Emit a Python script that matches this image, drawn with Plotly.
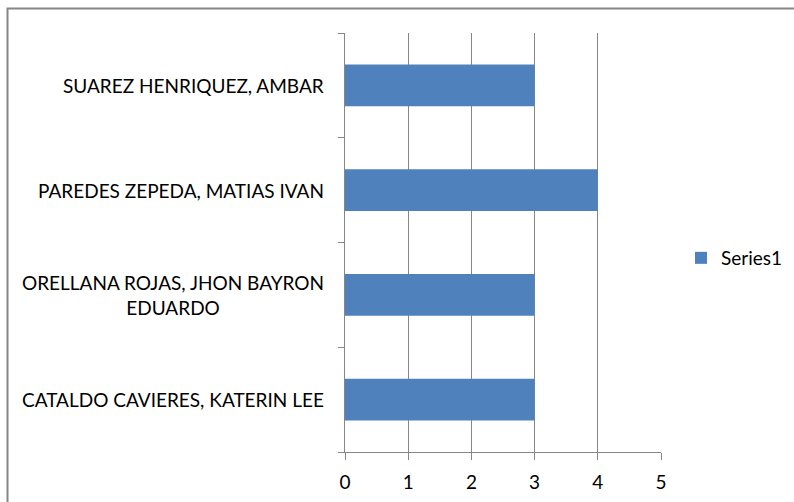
import plotly.graph_objects as go

categories = ["CATALDO CAVIERES, KATERIN LEE",
              "ORELLANA ROJAS, JHON BAYRON<br>EDUARDO",
              "PAREDES ZEPEDA, MATIAS IVAN",
              "SUAREZ HENRIQUEZ, AMBAR"]
cat_ids = ["c1", "c2", "c3", "c4"]
values = [3, 3, 4, 3]
x_ticks = [0, 1, 2, 3, 4, 5]
series_name = "Series1"

FONT = "Lato"
FS = 19
GRAY = "#868686"
W, H = 794, 502
L, R, T, B = 345, 133, 33, 50
pw, ph = W - L - R, H - T - B

fig = go.Figure()
fig.add_trace(go.Bar(
    x=values, y=cat_ids, orientation="h", name=series_name,
    marker=dict(color="#4F81BD", line=dict(width=0)), width=0.4,
    showlegend=True,
))

for cid, lab in zip(cat_ids, categories):
    fig.add_annotation(x=0, xref="paper", y=cid, yref="y", text=lab,
                       xanchor="right", yanchor="middle", xshift=-19,
                       align="center", showarrow=False,
                       font=dict(family=FONT, size=FS, color="#000000"))

# outer chart border (extends past the visible area at right/bottom)
fig.add_shape(type="rect", xref="paper", yref="paper",
              x0=(7.5 - L) / pw, x1=(W + 10 - L) / pw,
              y0=(H - B - (H + 10)) / ph, y1=(H - B - 8.5) / ph,
              line=dict(color=GRAY, width=2), fillcolor="rgba(0,0,0,0)", layer="below")

fig.update_layout(
    width=W, height=H, autosize=False,
    margin=dict(l=L, r=R, t=T, b=B, autoexpand=False),
    paper_bgcolor="white", plot_bgcolor="white",
    font=dict(family=FONT, size=FS, color="#000000"),
    xaxis=dict(range=[0, 5], tickvals=x_ticks, ticktext=[str(v) for v in x_ticks],
               showgrid=True, gridcolor=GRAY, gridwidth=1,
               showline=True, linecolor=GRAY, linewidth=1,
               ticks="outside", ticklen=7, tickcolor=GRAY, tickwidth=1,
               ticklabelstandoff=6,
               zeroline=False, fixedrange=True, automargin=False,
               tickfont=dict(family=FONT, size=FS, color="#000000")),
    yaxis=dict(type="category", categoryorder="array", categoryarray=cat_ids,
               range=[-0.5, 3.5], tickson="boundaries", showticklabels=False,
               showgrid=False, showline=True, linecolor=GRAY, linewidth=1,
               ticks="outside", ticklen=6, tickcolor=GRAY, tickwidth=1,
               zeroline=False, fixedrange=True, automargin=False),
    legend=dict(x=(681 - L) / pw, y=(H - B - 258) / ph, xanchor="left", yanchor="middle",
                font=dict(family=FONT, size=FS, color="#000000"),
                bgcolor="rgba(0,0,0,0)", itemwidth=30, tracegroupgap=0),
    showlegend=True,
    bargap=0.6,
)

fig.write_html("out.html", config={"responsive": False, "displayModeBar": False},
               post_script="document.body.style.margin='0';document.body.style.overflow='hidden';")
